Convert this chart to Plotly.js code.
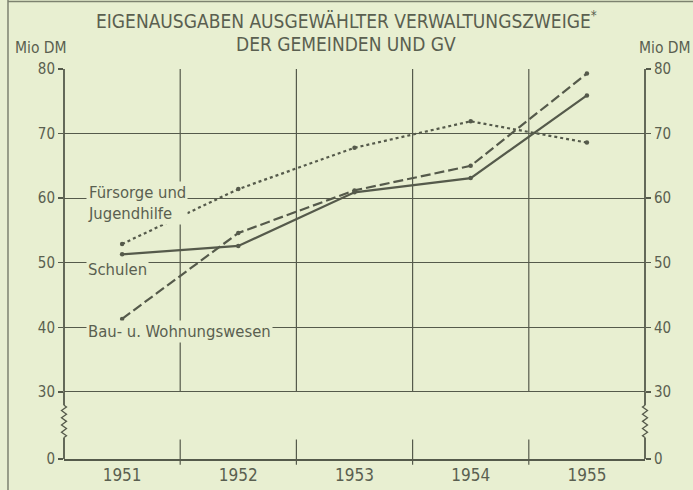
<!DOCTYPE html>
<html>
<head>
<meta charset="utf-8">
<script src="https://cdn.plot.ly/plotly-3.0.1.min.js"></script>
<style>html,body{margin:0;padding:0;background:#e8efd1;}</style>
</head>
<body>
<div id="chart" style="width:693px;height:490px;"></div>
<script>
// ---- data ----
var years = ['1951', '1952', '1953', '1954', '1955'];
var fuersorge = [52.9, 61.4, 67.8, 71.9, 68.6];
var schulen = [51.3, 52.6, 60.9, 63.1, 75.9];
var bau = [41.3, 54.6, 61.2, 65.0, 79.3];
var yTickVals = [19.6, 30, 40, 50, 60, 70, 80];   // 19.6 = position of the broken-axis "0"
var yTickText = ['0', '30', '40', '50', '60', '70', '80'];
var breakPos = 19.6;
var titleLines = ['EIGENAUSGABEN AUSGEWÄHLTER VERWALTUNGSZWEIGE<sup>*</sup>', 'DER GEMEINDEN UND GV'];

var ink = '#555a4b';
var txt = '#5a5f50';
var bg = '#e8efd1';
var font = 'DejaVu Sans Condensed, DejaVu Sans, sans-serif';
var xIdx = years.map(function (_, i) { return i; });

var traces = [
  {x: xIdx, y: fuersorge, mode: 'lines+markers', line: {color: ink, width: 2.2, dash: 'dot'},
   marker: {size: 4.5, color: ink}, hoverinfo: 'skip'},
  {x: xIdx, y: schulen, mode: 'lines+markers', line: {color: ink, width: 2.2},
   marker: {size: 4.5, color: ink}, hoverinfo: 'skip'},
  {x: xIdx, y: bau, mode: 'lines+markers', line: {color: ink, width: 2.2, dash: '10px,4px'},
   marker: {size: 4.5, color: ink}, hoverinfo: 'skip'},
  {x: [], y: [], yaxis: 'y2', hoverinfo: 'skip'}
];

// vertical grid lines between year columns (above the break) and short ticks below it
var shapes = [];
for (var i = 0; i < years.length - 1; i++) {
  shapes.push({type: 'line', xref: 'x', yref: 'y', x0: i + 0.5, x1: i + 0.5, y0: 30, y1: 80,
    line: {color: ink, width: 1.2}, layer: 'below'});
  shapes.push({type: 'line', xref: 'x', yref: 'paper', x0: i + 0.5, x1: i + 0.5, y0: 0.05, y1: -0.015,
    line: {color: ink, width: 1.2}, layer: 'below'});
}
// side axes with break
function sideAxis(xp, dir) {
  var a = 2.5 / 581 * dir;
  shapes.push({type: 'line', xref: 'paper', yref: 'y', x0: xp, x1: xp, y0: 30, y1: 80, line: {color: ink, width: 1.8}});
  shapes.push({type: 'line', xref: 'paper', yref: 'paper', x0: xp, x1: xp, y0: 0.0, y1: 0.055, line: {color: ink, width: 1.8}});
  shapes.push({type: 'line', xref: 'paper', yref: 'paper', x0: xp, x1: xp, y0: 0.138, y1: 0.172, line: {color: ink, width: 1.8}});
  var p = 'M ' + xp + ' 0.138';
  var n = 9, y0 = 0.138, y1 = 0.055;
  for (var k = 1; k <= n; k++) {
    var yy = y0 + (y1 - y0) * (k - 0.5) / n;
    p += ' L ' + (xp + (k % 2 ? a : -a)) + ' ' + yy;
  }
  p += ' L ' + xp + ' ' + y1;
  shapes.push({type: 'path', xref: 'paper', yref: 'paper', path: p, line: {color: ink, width: 1.3}});
}
sideAxis(0, 1);
sideAxis(1, -1);
// outer frame (left and top)
shapes.push({type: 'line', xref: 'paper', yref: 'paper', x0: -0.0964, x1: -0.0964, y0: -0.09, y1: 1.18, line: {color: '#7d8270', width: 1.5}});
shapes.push({type: 'line', xref: 'paper', yref: 'paper', x0: -0.0964, x1: 1.1, y0: 1.173, y1: 1.173, line: {color: '#7d8270', width: 1.5}});

var lblFont = {family: font, size: 16.5, color: txt};
var annotations = [
  {text: 'Fürsorge und<br>Jugendhilfe', xref: 'paper', yref: 'y', x: 0.038, y: 59.3, xanchor: 'left', yanchor: 'middle',
   showarrow: false, align: 'left', font: lblFont, bgcolor: bg, borderpad: 1},
  {text: 'Schulen', xref: 'paper', yref: 'y', x: 0.038, y: 48.9, xanchor: 'left', yanchor: 'middle',
   showarrow: false, font: lblFont, bgcolor: bg, borderpad: 1},
  {text: 'Bau- u. Wohnungswesen', xref: 'paper', yref: 'y', x: 0.038, y: 39.3, xanchor: 'left', yanchor: 'middle',
   showarrow: false, font: lblFont, bgcolor: bg, borderpad: 1},
  {text: 'Mio DM', xref: 'paper', yref: 'paper', x: -0.087, y: 1.053, xanchor: 'left', yanchor: 'middle',
   showarrow: false, font: {family: font, size: 15.5, color: txt}},
  {text: 'Mio DM', xref: 'paper', yref: 'paper', x: 1.083, y: 1.053, xanchor: 'right', yanchor: 'middle',
   showarrow: false, font: {family: font, size: 15.5, color: txt}},
  {text: titleLines[0], xref: 'paper', yref: 'paper', x: 0.486, y: 1.126, xanchor: 'center', yanchor: 'middle',
   showarrow: false, font: {family: font, size: 19, color: txt}},
  {text: titleLines[1], xref: 'paper', yref: 'paper', x: 0.486, y: 1.063, xanchor: 'center', yanchor: 'middle',
   showarrow: false, font: {family: font, size: 19, color: txt}}
];

var axisCommon = {
  range: [breakPos, 80], tickmode: 'array', tickvals: yTickVals, ticktext: yTickText,
  ticks: 'outside', ticklen: 5, tickwidth: 1.3, tickcolor: ink, showline: false, zeroline: false,
  tickfont: {family: font, size: 15, color: txt}, fixedrange: true
};

var layout = {
  width: 693, height: 490,
  margin: {l: 64, r: 48, t: 69, b: 31},
  paper_bgcolor: bg, plot_bgcolor: bg,
  showlegend: false,
  xaxis: {range: [-0.5, 4.5], tickmode: 'array', tickvals: xIdx, ticktext: years, showgrid: false,
    zeroline: false, showline: true, linecolor: ink, linewidth: 1.8, ticks: '',
    tickfont: {family: font, size: 17, color: txt}, fixedrange: true},
  yaxis: Object.assign({}, axisCommon, {showgrid: true, gridcolor: ink, gridwidth: 1.2}),
  yaxis2: Object.assign({}, axisCommon, {overlaying: 'y', side: 'right', showgrid: false}),
  shapes: shapes,
  annotations: annotations
};

Plotly.newPlot('chart', traces, layout, {staticPlot: true, displayModeBar: false});
</script>
</body>
</html>
